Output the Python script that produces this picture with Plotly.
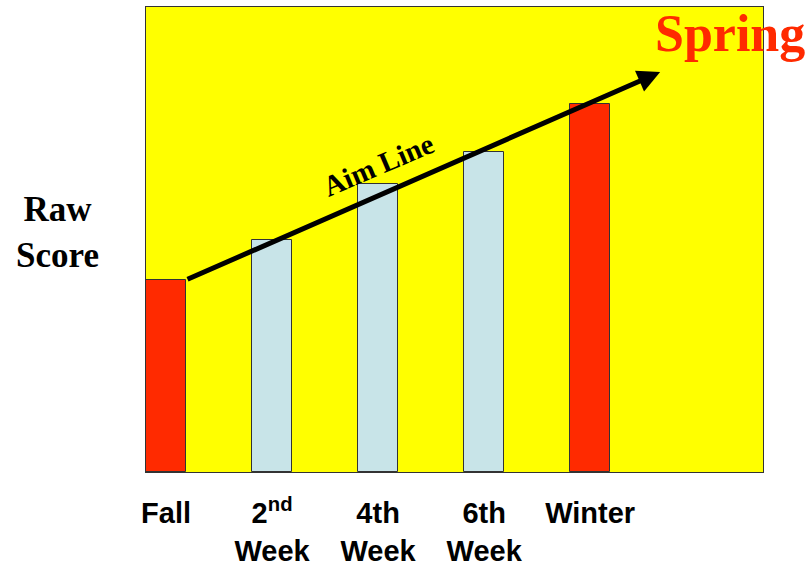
import plotly.graph_objects as go

# Benchmark checkpoints and raw scores
checkpoints = ["Fall", "2<sup>nd</sup><br>Week", "4th<br>Week", "6th<br>Week", "Winter"]
raw_scores = [41.3, 49.9, 61.9, 68.8, 79.1]
is_benchmark = [True, False, False, False, True]
aim_target = 86.0      # spring goal the aim line points to
aim_target_pos = 4.66  # where the spring goal sits along the x axis

positions = list(range(len(checkpoints)))
bar_width = 0.377
bar_colors = ["#ff2a00" if b else "#c8e4e8" for b in is_benchmark]

fig = go.Figure()
fig.add_trace(go.Bar(
    x=positions,
    y=raw_scores,
    width=bar_width,
    marker=dict(color=bar_colors, line=dict(color="#333333", width=1)),
    hoverinfo="skip",
))

# Aim line: from the top of the fall bar toward the spring goal
fig.add_annotation(
    x=aim_target_pos, y=aim_target, xref="x", yref="y",
    ax=positions[0] + bar_width / 2, ay=raw_scores[0], axref="x", ayref="y",
    showarrow=True, arrowhead=2, arrowsize=0.9, arrowwidth=5, arrowcolor="black",
    text="",
)
fig.add_annotation(
    x=2.0, y=66.0, xref="x", yref="y", text="<b>Aim Line</b>", showarrow=False,
    textangle=-23, font=dict(family="Liberation Serif", size=29, color="black"),
)
fig.add_annotation(
    x=0.821, y=0.943, xref="paper", yref="paper", xanchor="left", yanchor="middle",
    text="<b>Spring</b>", showarrow=False,
    font=dict(family="Liberation Serif", size=52, color="#ff2a00"),
)
fig.add_annotation(
    x=-0.144, y=0.514, xref="paper", yref="paper", xanchor="center", yanchor="middle",
    text="<b>Raw<br>Score</b>", showarrow=False,
    font=dict(family="Liberation Serif", size=35, color="black"),
)

fig.update_xaxes(
    range=[-0.189, 5.63], tickmode="array", tickvals=positions,
    ticktext=[f"<b>{c}</b>" for c in checkpoints],
    tickfont=dict(family="Liberation Sans", size=29, color="black"),
    showgrid=False, zeroline=False, ticks="", ticklabelstandoff=15,
    automargin=False,
    showline=True, mirror=True, linecolor="#333333", linewidth=1,
)
fig.update_yaxes(
    range=[0, 100], showticklabels=False, showgrid=False, zeroline=False, ticks="",
    automargin=False,
    showline=True, mirror=True, linecolor="#333333", linewidth=1,
)
fig.update_layout(
    width=812, height=566,
    margin=dict(l=146, r=49, t=7, b=94),
    plot_bgcolor="#ffff00", paper_bgcolor="white",
    showlegend=False, bargap=0,
)
fig.write_html("out.html")
